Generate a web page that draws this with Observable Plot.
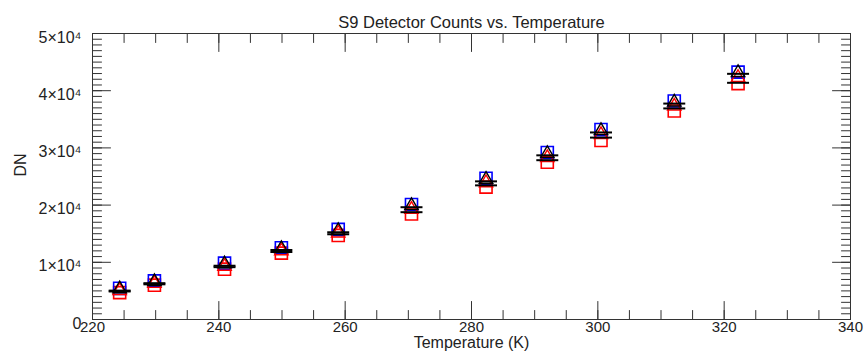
<!DOCTYPE html>
<html><head><meta charset="utf-8">
<script src="https://cdn.jsdelivr.net/npm/d3@7"></script>
<script src="https://cdn.jsdelivr.net/npm/@observablehq/plot@0.6"></script>
<style>body{margin:0;background:#fff}</style>
</head><body><div id="chart"></div>
<script>
const temperatures = [224.3, 229.8, 240.9, 249.9, 258.9, 270.5, 282.3, 292.0, 300.5, 312.1, 322.2];
const blueSquares  = [5450, 6750, 9850, 12550, 15750, 20100, 24700, 29200, 33200, 38200, 43250];
const redSquares   = [4700, 6000, 8800, 11600, 14700, 18450, 23150, 27500, 31300, 36450, 41250];
const blackTriangles = [5350, 6600, 9700, 12400, 15550, 19900, 24500, 29000, 33000, 38000, 43150];
const redTriangles = [5050, 6300, 9300, 12000, 15100, 19250, 23900, 28300, 32300, 37300, 42300];
const blackLinesA  = [5050, 6350, 9400, 12150, 15250, 19630, 24150, 28700, 32700, 37750, 42950];
const blackLinesB  = [4900, 6150, 9150, 11800, 14900, 18760, 23450, 27850, 31800, 36900, 41380];

const xMajorTicks = [220, 240, 260, 280, 300, 320, 340];
const xTickLabels = ["220", "240", "260", "280", "300", "320", "340"];
const xMinorTicks = d3.range(220, 341, 5);
const yMajorTicks = [0, 10000, 20000, 30000, 40000, 50000];
const yTickLabels = ["0", "1×10⁴", "2×10⁴", "3×10⁴", "4×10⁴", "5×10⁴"];
const yMinorTicks = d3.range(0, 50001, 1000);

const series = (vals) => temperatures.map((t, i) => ({t, v: vals[i]}));

const tickShape = {draw(context, l) { context.moveTo(0, 0); context.lineTo(0, -l); }};
const hline = {draw(context, size) { const w = Math.sqrt(size); context.moveTo(-w, 0); context.lineTo(w, 0); }};

const axisColor = "#333";
const tickVec = (data, opts, len) => Plot.vector(data, {...opts, length: len, anchor: "start", shape: tickShape, stroke: axisColor, strokeWidth: 1});

const font = "Liberation Sans, Arial, Helvetica, sans-serif";

const chart = Plot.plot({
  width: 864,
  height: 357,
  marginLeft: 92,
  marginRight: 14,
  marginTop: 33,
  marginBottom: 38,
  style: {fontFamily: font, fontSize: "15px", color: "#222", background: "#fff"},
  x: {domain: [220, 340], axis: null},
  y: {domain: [0, 50000], axis: null},
  marks: [
    // minor ticks
    tickVec(xMinorTicks, {x: d => d, y: () => 0, rotate: 0}, 9),
    tickVec(xMinorTicks, {x: d => d, y: () => 50000, rotate: 180}, 9),
    tickVec(yMinorTicks, {y: d => d, x: () => 220, rotate: 90}, 9),
    tickVec(yMinorTicks, {y: d => d, x: () => 340, rotate: -90}, 9),
    // major ticks
    tickVec(xMajorTicks, {x: d => d, y: () => 0, rotate: 0}, 18),
    tickVec(xMajorTicks, {x: d => d, y: () => 50000, rotate: 180}, 18),
    tickVec(yMajorTicks, {y: d => d, x: () => 220, rotate: 90}, 18),
    tickVec(yMajorTicks, {y: d => d, x: () => 340, rotate: -90}, 18),
    Plot.frame({stroke: axisColor, strokeWidth: 1}),
    // tick labels
    Plot.text(xMajorTicks, {x: d => d, frameAnchor: "bottom", dy: 12, text: (d, i) => xTickLabels[i], fill: "#222", fontSize: 15}),
    Plot.text(yMajorTicks, {y: d => d, frameAnchor: "left", dx: -11, dy: 4, textAnchor: "end", text: (d, i) => yTickLabels[i], fill: "#222", fontSize: 16}),
    // axis titles and title
    Plot.text(["S9 Detector Counts vs. Temperature"], {frameAnchor: "top", dy: -17, text: d => d, fill: "#222", fontSize: 16.5}),
    Plot.text(["Temperature (K)"], {frameAnchor: "bottom", dy: 28, text: d => d, fill: "#222", fontSize: 16}),
    Plot.text(["DN"], {frameAnchor: "left", dx: -72, rotate: -90, text: d => d, fill: "#222", fontSize: 16}),
    // data
    Plot.dot(series(redSquares), {x: "t", y: "v", symbol: "square", r: 6.8, stroke: "#ff0000", strokeWidth: 1.6, fill: "none"}),
    Plot.dot(series(blueSquares), {x: "t", y: "v", symbol: "square", r: 6.8, stroke: "#0000ff", strokeWidth: 1.6, fill: "none"}),
    Plot.dot(series(redTriangles), {x: "t", y: "v", symbol: "triangle", r: 5, stroke: "#ff0000", strokeWidth: 1.4, fill: "none"}),
    Plot.dot(series(blackTriangles), {x: "t", y: "v", symbol: "triangle", r: 5, stroke: "#000", strokeWidth: 1.4, fill: "none"}),
    Plot.dot(series(blackLinesA), {x: "t", y: "v", symbol: hline, r: 6.2, stroke: "#000", strokeWidth: 2}),
    Plot.dot(series(blackLinesB), {x: "t", y: "v", symbol: hline, r: 6.2, stroke: "#000", strokeWidth: 2})
  ]
});
document.getElementById("chart").appendChild(chart);
</script>
</body></html>
